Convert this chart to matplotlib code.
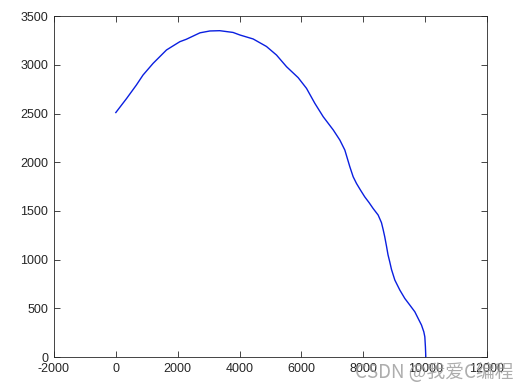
import matplotlib.pyplot as plt

# trajectory
x_vals = [0, 350, 666, 880, 1206, 1638, 1850, 2069, 2280, 2720, 3040,
          3360, 3790, 4010, 4440, 4870, 5195, 5520, 5895, 6165, 6435, 6705,
          7030, 7242, 7404, 7485, 7565, 7673, 7781, 7910, 8047, 8189, 8317,
          8481, 8588, 8642, 8694, 8750, 8800, 8858, 8912, 9020, 9182, 9343,
          9505, 9667, 9774, 9882, 9957, 9990, 10009, 10022]
y_vals = [2510, 2655, 2793, 2895, 3015, 3152, 3194, 3237, 3262, 3328, 3347,
          3350, 3332, 3306, 3265, 3188, 3100, 2980, 2868, 2758, 2604, 2467,
          2331, 2228, 2125, 2039, 1954, 1851, 1782, 1714, 1645, 1585, 1526,
          1458, 1380, 1310, 1235, 1140, 1050, 975, 900, 791, 688, 602,
          534, 465, 397, 329, 260, 208, 106, 0]

x_ticks = [-2000, 0, 2000, 4000, 6000, 8000, 10000, 12000]
y_ticks = [0, 500, 1000, 1500, 2000, 2500, 3000, 3500]


def main():
    plt.rcParams['font.family'] = ['Liberation Sans', 'DejaVu Sans']
    plt.rcParams['axes.unicode_minus'] = False
    fig = plt.figure(figsize=(5.29, 3.92), dpi=100)
    ax = fig.add_axes([0.102, 0.089, 0.8186, 0.870])
    ax.plot(x_vals, y_vals, color='#0a1fe0', linewidth=1.0)

    ax.set_xlim(-2000, 12000)
    ax.set_ylim(0, 3500)
    ax.set_xticks(x_ticks)
    ax.set_yticks(y_ticks)
    ax.tick_params(direction='in', top=True, right=True, length=4,
                   width=0.6, labelsize=9, colors='#262626', pad=4)
    for s in ax.spines.values():
        s.set_linewidth(0.6)
        s.set_color('#262626')

    # watermark from the source image
    fig.text(0.97, 0.051, 'CSDN @我爱C编程', ha='right', va='center',
             fontsize=13.5, color='#999999', alpha=0.8,
             family=['Noto Sans CJK SC', 'DejaVu Sans'])

    fig.savefig('out.png', dpi=100)


if __name__ == "__main__":
    main()
